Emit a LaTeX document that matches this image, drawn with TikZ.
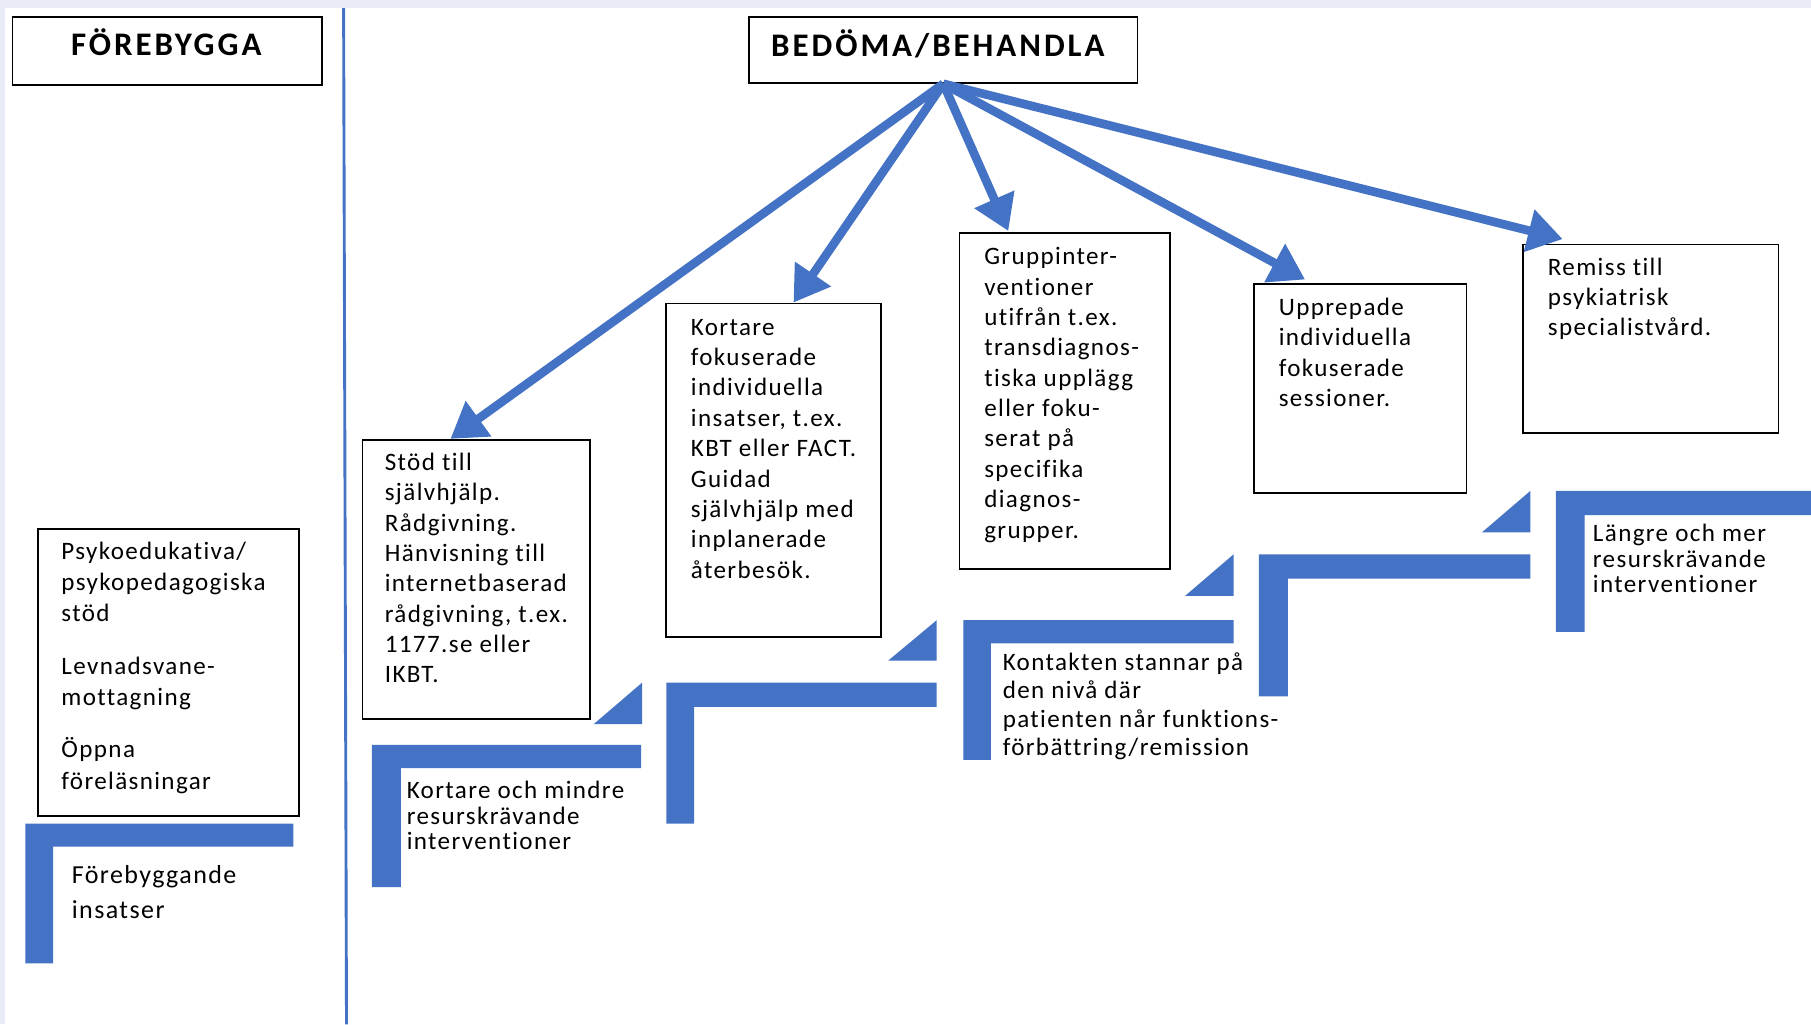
\documentclass[tikz,border=0pt]{standalone}
\usepackage{fontspec}
\setmainfont{Carlito}
\newfontfamily\bodyf[LetterSpace=5.5,Ligatures=NoCommon]{Carlito}
\newfontfamily\headf[LetterSpace=9,Ligatures=NoCommon]{Carlito}
\usetikzlibrary{arrows.meta,calc}
\definecolor{stepblue}{HTML}{4472C4}
\definecolor{lav}{HTML}{E9ECF7}
\begin{document}
\begin{tikzpicture}[x=1pt,y=-1pt,
  box/.style={draw=black, line width=1.5pt, fill=white, anchor=north west, inner sep=0pt},
  txt/.style={anchor=north west, inner sep=0pt, align=left, text=black, font={\bodyf\fontsize{21.7}{26.3}\selectfont}},
  head/.style={anchor=base, inner sep=0pt, text=black, font={\headf\bfseries\fontsize{28.5}{32}\selectfont}},
  arr/.style={draw=stepblue, line width=7.5pt, -{Triangle[length=30pt,width=36pt]}},
  stepbar/.style={fill=stepblue},
  sep/.style={draw=stepblue, line width=2.5pt}
]
% background
\fill[lav] (0,0) rectangle (1568,887);
\fill[white] (4,7) rectangle (1568,887);
\useasboundingbox (0,0) rectangle (1568,887);

% separator
\draw[sep] (297.5,7) -- (300,887);

% headings
\node[box, minimum width=268pt, minimum height=59pt] (fore) at (10,14) {};
\node[head] (foretxt) at (144,47.8) {FÖREBYGGA};
\node[box, minimum width=336pt, minimum height=57pt] (bed) at (648,14) {};
\node[head] (bedtxt) at (812,48.7) {BEDÖMA/BEHANDLA};

% boxes
\node[box, minimum width=226pt, minimum height=249pt] (psyko) at (32,457) {};
\node[txt, font={\bodyf\fontsize{21.7}{27}\selectfont}] (psykotxt) at (53,465.1)
  {\strut Psykoedukativa/\\psykopedagogiska\\stöd\\[18.5pt]Levnadsvane-\\mottagning\\[18.5pt]Öppna\\föreläsningar};

\node[box, minimum width=197pt, minimum height=242pt] (stod) at (313,380) {};
\node[txt] (stodtxt) at (333,388.6)
  {\strut Stöd till\\självhjälp.\\Rådgivning.\\Hänvisning till\\internetbaserad\\rådgivning, t.ex.\\1177.se eller\\IKBT.};

\node[box, minimum width=186pt, minimum height=289pt] (kort) at (576,262) {};
\node[txt] (korttxt) at (598,271.6)
  {\strut Kortare\\fokuserade\\individuella\\insatser, t.ex.\\KBT eller FACT.\\Guidad\\självhjälp med\\inplanerade\\återbesök.};

\node[box, minimum width=182pt, minimum height=291pt] (grupp) at (830,201) {};
\node[txt] (grupptxt) at (852,210.6)
  {\strut Gruppinter-\\ventioner\\utifrån t.ex.\\transdiagnos-\\tiska upplägg\\eller foku-\\serat på\\specifika\\diagnos-\\grupper.};

\node[box, minimum width=184pt, minimum height=181pt] (upp) at (1085,245) {};
\node[txt] (upptxt) at (1107,254.6)
  {\strut Upprepade\\individuella\\fokuserade\\sessioner.};

\node[box, minimum width=221pt, minimum height=163pt] (rem) at (1318,211) {};
\node[txt] (remtxt) at (1340,219.6)
  {\strut Remiss till\\psykiatrisk\\specialistvård.};

% arrows
\draw[arr] (bed.south) -- ($(stod.north west)+(77pt,0pt)$);
\draw[arr] (bed.south) -- ($(kort.north west)+(111pt,0pt)$);
\draw[arr] (bed.south) -- ($(grupp.north west)+(43pt,1pt)$);
\draw[arr] (bed.south) -- ($(upp.north west)+(45pt,3pt)$);
\draw[arr] (bed.south) -- ($(rem.north west)+(35pt,4pt)$);

% steps
\fill[stepbar] (22,713) -- (254,713) -- (254,733) -- (46,733) -- (46,834) -- (22,834) -- cycle;
\fill[stepbar] (322,645) -- (555,645) -- (555,665) -- (347,665) -- (347,768) -- (322,768) -- cycle;
\fill[stepbar] (577,591) -- (811,591) -- (811,612) -- (601,612) -- (601,713) -- (577,713) -- cycle;
\fill[stepbar] (834,537) -- (1068,537) -- (1068,557) -- (858,557) -- (858,658) -- (834,658) -- cycle;
\fill[stepbar] (1090,480) -- (1325,480) -- (1325,501) -- (1115,501) -- (1115,603) -- (1090,603) -- cycle;
\fill[stepbar] (1347,425) -- (1568,425) -- (1568,446) -- (1372,446) -- (1372,547) -- (1347,547) -- cycle;

% triangles
\fill[stepbar] (514,627) -- (556,627) -- (556,591) -- cycle;
\fill[stepbar] (769,572) -- (811,572) -- (811,537) -- cycle;
\fill[stepbar] (1026,516) -- (1068,516) -- (1068,480) -- cycle;
\fill[stepbar] (1283,461) -- (1325,461) -- (1325,425) -- cycle;

% step labels
\node[txt, font={\bodyf\fontsize{22.5}{30}\selectfont}] (s1txt) at (62,744)
  {\strut Förebyggande\\insatser};
\node[txt, font={\bodyf\fontsize{21.7}{21.5}\selectfont}] (s2txt) at (352,676)
  {\strut Kortare och mindre\\resurskrävande\\interventioner};
\node[txt, font={\bodyf\fontsize{21.7}{24.7}\selectfont}] (s4txt) at (868,562.7)
  {\strut Kontakten stannar på\\den nivå där\\patienten når funktions-\\förbättring/remission};
\node[txt, font={\bodyf\fontsize{21.7}{22}\selectfont}] (s6txt) at (1379,453.6)
  {\strut Längre och mer\\resurskrävande\\interventioner};
\end{tikzpicture}
\end{document}
